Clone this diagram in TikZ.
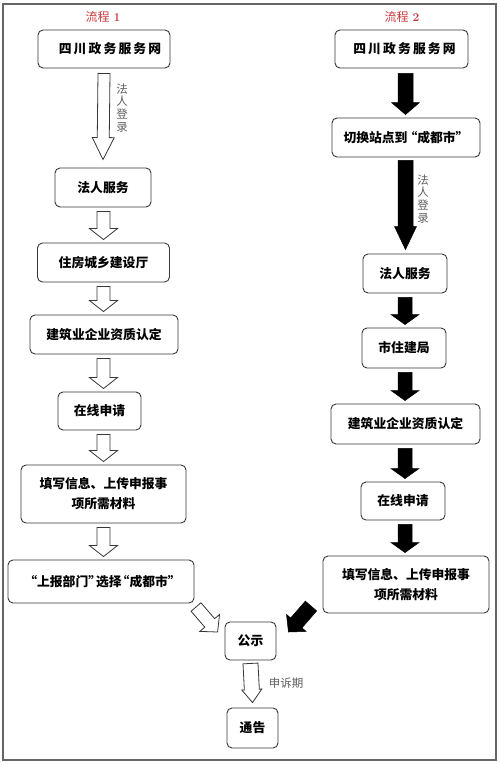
\documentclass[tikz,border=0pt]{standalone}
\usepackage{fontspec}
\usetikzlibrary{calc}
\newfontfamily\cjk{Noto Sans CJK SC}
\definecolor{boxline}{RGB}{55,55,55}
\definecolor{tagred}{RGB}{200,55,60}
\definecolor{notegray}{RGB}{95,95,95}

% fat arrow: style, from, to, half shaft, half head, head length
\newcommand{\blockarrow}[6]{%
  \coordinate (ba-a) at #2;
  \coordinate (ba-b) at #3;
  \coordinate (ba-c) at ($(ba-b)!#6!(ba-a)$);
  \filldraw[#1] ($(ba-a)!#4!90:(ba-b)$) -- ($(ba-c)!#4!-90:(ba-a)$) -- ($(ba-c)!#5!-90:(ba-a)$)
    -- (ba-b) -- ($(ba-c)!#5!90:(ba-a)$) -- ($(ba-c)!#4!90:(ba-a)$) -- ($(ba-a)!#4!-90:(ba-b)$) -- cycle;}

\begin{document}
\begin{tikzpicture}[x=1pt,y=-1pt]
\tikzstyle{box}=[draw=boxline,line width=0.9pt,rounded corners=5pt,align=center,inner sep=2pt,
  font=\cjk\bfseries\fontsize{12.8}{20}\selectfont]
\tikzstyle{tag}=[text=tagred,font=\fontsize{12}{14}\selectfont]
\tikzstyle{note}=[text=notegray,align=center,inner sep=0pt,font=\cjk\fontsize{11.5}{12.8}\selectfont]
\tikzstyle{hol}=[draw=boxline,fill=white,line width=0.8pt]
\tikzstyle{blk}=[draw=black,fill=black,line width=0.5pt]
\useasboundingbox (0,0) rectangle (500,765);
\draw[gray!80!black,line width=1.3pt] (3,4) rectangle (496,760);

% flow 1
\node[tag] (t1) at (103,17) {{\cjk 流程} \textbf{1}};
\node[box,minimum width=132pt,minimum height=38pt] (l1) at (104,49) {\hspace{12pt}四\,川\,政\,务\,服\,务\,网};
\node[box,minimum width=96pt,minimum height=39pt] (l2) at (103,187.5) {法人服务};
\node[box,minimum width=132pt,minimum height=39pt] (l3) at (103.5,262.5) {住房城乡建设厅};
\node[box,minimum width=148pt,minimum height=39pt] (l4) at (104,334.5) {建筑业企业资质认定};
\node[box,minimum width=83pt,minimum height=38pt] (l5) at (99.5,411) {在线申请};
\node[box,minimum width=165pt,minimum height=58pt] (l6) at (103.5,494) {填写信息、上传申报事\\项所需材料};
\node[box,minimum width=186pt,minimum height=43pt] (l7) at (101,581.5)
  {\hspace{8pt}\kern-5pt“上报部门”\kern-5pt选择\kern-5pt“成都市”};

% flow 2
\node[tag] (t2) at (402,17) {{\cjk 流程} \textbf{2}};
\node[box,minimum width=133pt,minimum height=38pt] (r1) at (401.5,49) {\hspace{6pt}四\,川\,政\,务\,服\,务\,网};
\node[box,minimum width=148pt,minimum height=39pt] (r2) at (406,137.5) {切换站点到\kern-3pt“成都市”};
\node[box,minimum width=84pt,minimum height=39pt] (r3) at (405,273.5) {法人服务};
\node[box,minimum width=84pt,minimum height=40pt] (r4) at (404,348) {市住建局};
\node[box,minimum width=149pt,minimum height=40pt] (r5) at (405.5,424) {建筑业企业资质认定};
\node[box,minimum width=84pt,minimum height=38pt] (r6) at (403,501) {在线申请};
\node[box,minimum width=166pt,minimum height=57pt] (r7) at (406,584.5) {填写信息、上传申报事\\项所需材料};

% common end
\node[box,minimum width=51pt,minimum height=38pt] (pub) at (250.5,641) {公示};
\node[box,minimum width=51pt,minimum height=40pt] (ann) at (252.5,728) {通告};

% hollow arrows
\blockarrow{hol}{($(l1.south)+(0,5)$)}{($(l2.north)+(0,-8)$)}{6pt}{11pt}{22pt}
\foreach \a/\b in {l2/l3,l3/l4,l4/l5,l5/l6,l6/l7}
  \blockarrow{hol}{($(\a.south -| l2)+(0.5,4)$)}{($(\b.north -| l2)+(0.5,-3)$)}{6.5pt}{14pt}{11pt};
\blockarrow{hol}{(196,607)}{($(pub.west)+(-7,-9)$)}{6.5pt}{13pt}{12pt}
\blockarrow{hol}{($(pub.south)+(0,3)$)}{($(ann.north)+(0,-5)$)}{7.5pt}{10pt}{13pt}

% black arrows
\blockarrow{blk}{($(r1.south -| r2)+(-0.5,5)$)}{($(r2.north)+(-0.5,-3)$)}{7.5pt}{14pt}{12pt}
\blockarrow{blk}{($(r2.south)+(-0.5,3)$)}{($(r3.north -| r2)+(-0.5,-4)$)}{7.5pt}{11pt}{23pt}
\foreach \a/\b in {r3/r4,r4/r5,r5/r6,r6/r7}
  \blockarrow{blk}{($(\a.south -| r3)+(0,4)$)}{($(\b.north -| r3)+(0,-3)$)}{7pt}{14pt}{10pt};
\blockarrow{blk}{(311,606)}{($(pub.east)+(12,-9)$)}{7.5pt}{13pt}{12pt}

% arrow notes
\node[note] (n1) at (122,108) {法\\人\\登\\录};
\node[note] (n2) at (423,199) {法\\人\\登\\录};
\node[note] (n3) at (286,683) {申诉期};
\end{tikzpicture}
\end{document}
